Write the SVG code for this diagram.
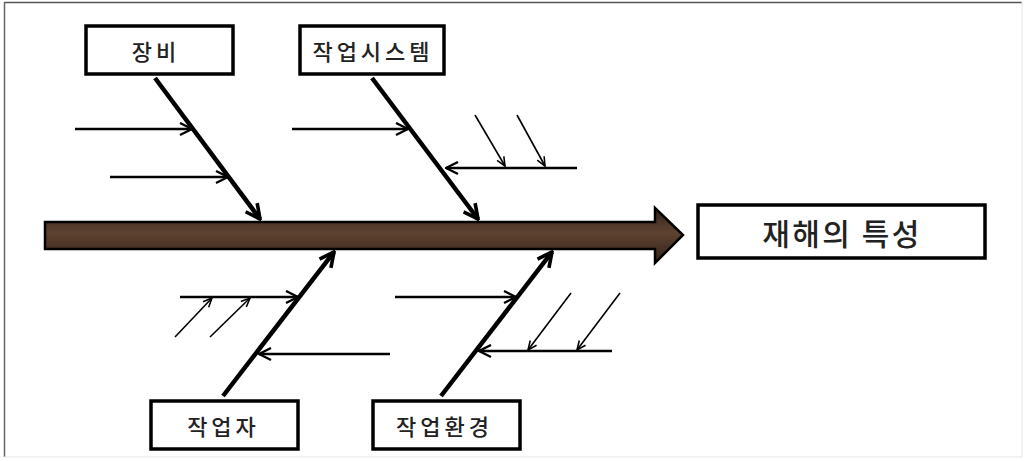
<svg xmlns="http://www.w3.org/2000/svg" width="1026" height="461" viewBox="0 0 1026 461">
<style>
.box{fill:#fff;stroke:#000;stroke-width:3.5}
.lbl{font-family:"Noto Sans CJK KR","Noto Sans",sans-serif;font-size:22px;font-weight:500;fill:#222;text-anchor:middle;dominant-baseline:central;letter-spacing:4px}
.big{font-size:30px;letter-spacing:2.5px}
.bone{stroke:#000;stroke-width:4.5;fill:none}
.sub{stroke:#000;stroke-width:2.5;fill:none}
.thin{stroke:#000;stroke-width:1.6;fill:none}
</style>
<defs>
<marker id="ah" viewBox="0 0 10 10" refX="9" refY="5" markerWidth="4" markerHeight="4" orient="auto" markerUnits="strokeWidth">
<path d="M1,1 L9,5 L1,9" fill="none" stroke="#000" stroke-width="2"/>
</marker>
<marker id="ahs" viewBox="0 0 10 10" refX="9" refY="5" markerWidth="6" markerHeight="6" orient="auto" markerUnits="strokeWidth">
<path d="M1,1 L9,5 L1,9" fill="none" stroke="#000" stroke-width="1.6"/>
</marker>
<marker id="aht" viewBox="0 0 10 10" refX="9" refY="5" markerWidth="7" markerHeight="7" orient="auto" markerUnits="strokeWidth">
<path d="M1,1.5 L9,5 L1,8.5" fill="none" stroke="#000" stroke-width="1.4"/>
</marker>
<linearGradient id="wood" x1="0" y1="0" x2="0" y2="1">
<stop offset="0" stop-color="#35241a"/>
<stop offset="0.45" stop-color="#5e4231"/>
<stop offset="1" stop-color="#33231a"/>
</linearGradient>
</defs>
<rect x="0" y="0" width="1026" height="461" fill="#fff"/>
<line x1="4" y1="2.5" x2="1022" y2="2.5" stroke="#555" stroke-width="1.5"/>
<line x1="4.5" y1="2" x2="4.5" y2="457" stroke="#666" stroke-width="1.5"/>
<line x1="1022" y1="2" x2="1022" y2="457" stroke="#e6e6e6" stroke-width="1"/>
<line x1="4" y1="457" x2="1022" y2="457" stroke="#e6e6e6" stroke-width="1"/>

<g id="spine">
<path d="M45,222 L655,222 L655,208 L683,235 L655,263 L655,249 L45,249 Z" fill="url(#wood)" stroke="#000" stroke-width="2.5" stroke-linejoin="miter"/>
</g>

<g id="connectors">
<line class="bone" x1="155" y1="78" x2="260" y2="219" marker-end="url(#ah)"/>
<line class="bone" x1="372" y1="78" x2="478" y2="219" marker-end="url(#ah)"/>
<line class="bone" x1="223" y1="396" x2="334" y2="252" marker-end="url(#ah)"/>
<line class="bone" x1="441" y1="396" x2="552" y2="252" marker-end="url(#ah)"/>

<line class="sub" x1="75" y1="129" x2="192" y2="129" marker-end="url(#ahs)"/>
<line class="sub" x1="110" y1="177" x2="228" y2="177" marker-end="url(#ahs)"/>
<line class="sub" x1="292" y1="129" x2="408" y2="129" marker-end="url(#ahs)"/>
<line class="sub" x1="577" y1="168" x2="446" y2="168" marker-end="url(#ahs)"/>
<line class="thin" x1="475" y1="115" x2="505" y2="166" marker-end="url(#aht)"/>
<line class="thin" x1="517" y1="115" x2="545" y2="166" marker-end="url(#aht)"/>

<line class="sub" x1="180" y1="297" x2="298" y2="297" marker-end="url(#ahs)"/>
<line class="thin" x1="175" y1="337" x2="212" y2="298" marker-end="url(#aht)"/>
<line class="thin" x1="210" y1="337" x2="250" y2="298" marker-end="url(#aht)"/>
<line class="sub" x1="390" y1="354" x2="259" y2="354" marker-end="url(#ahs)"/>

<line class="sub" x1="395" y1="297" x2="516" y2="297" marker-end="url(#ahs)"/>
<line class="sub" x1="612" y1="351" x2="479" y2="351" marker-end="url(#ahs)"/>
<line class="thin" x1="571" y1="293" x2="528" y2="350" marker-end="url(#aht)"/>
<line class="thin" x1="620" y1="293" x2="577" y2="350" marker-end="url(#aht)"/>
</g>

<g id="node-equipment">
<rect class="box" x="86" y="26" width="147" height="48"/>
<text class="lbl" x="156" y="50">장비</text>
</g>
<g id="node-worksystem">
<rect class="box" x="300" y="26" width="144" height="48"/>
<text class="lbl" x="373" y="50">작업시스템</text>
</g>
<g id="node-worker">
<rect class="box" x="151" y="401" width="147" height="48"/>
<text class="lbl" x="223.5" y="425">작업자</text>
</g>
<g id="node-environment">
<rect class="box" x="373" y="401" width="147" height="48"/>
<text class="lbl" x="444.5" y="425">작업환경</text>
</g>
<g id="node-result">
<rect class="box" x="698" y="205" width="287" height="53"/>
<text class="lbl big" x="842" y="232">재해의 특성</text>
</g>
</svg>
